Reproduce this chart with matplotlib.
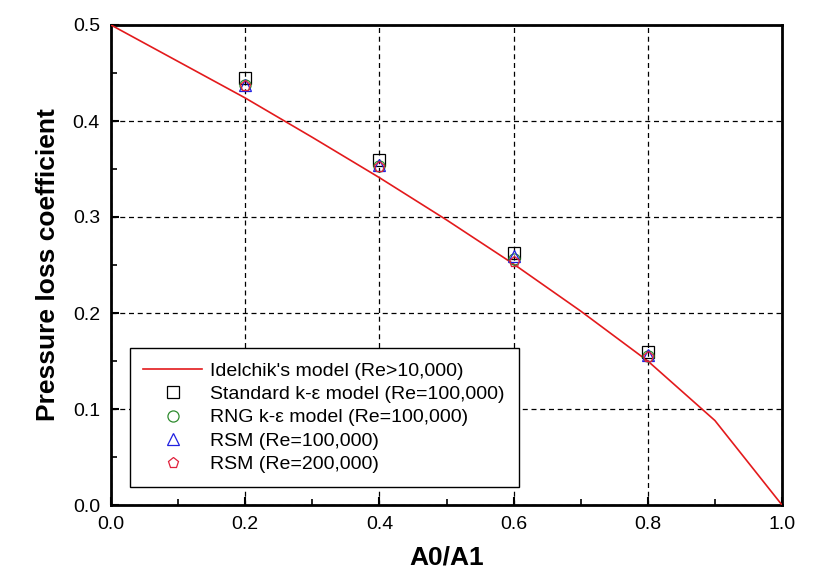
import numpy as np
import matplotlib
matplotlib.use('Agg')
import matplotlib.pyplot as plt
from matplotlib.ticker import MultipleLocator

plt.rcParams['font.family'] = ['Liberation Sans', 'DejaVu Sans']

# Idelchik's curve (tabulated)
x_idel = [0.0, 0.1, 0.2, 0.3, 0.4, 0.5, 0.6, 0.7, 0.8, 0.9, 1.0]
y_idel = [0.5, 0.462, 0.424, 0.383, 0.341, 0.297, 0.251, 0.202, 0.150, 0.088, 0.0]

# CFD results
x_cfd    = [0.2, 0.4, 0.6, 0.8]
std_ke   = [0.445, 0.359, 0.2625, 0.159]
rng_ke   = [0.437, 0.353, 0.256, 0.155]
rsm_100k = [0.438, 0.354, 0.259, 0.156]
rsm_200k = [0.436, 0.352, 0.253, 0.154]

fig = plt.figure(figsize=(8.17, 5.81), dpi=100)
ax = fig.add_axes([111/817, 1-505/581, 671/817, 480/581])

ax.plot(x_idel, y_idel, color='#e31a1c', lw=1.2, label="Idelchik's model (Re>10,000)", zorder=3)
ax.plot(x_cfd, std_ke, ls='none', marker='s', ms=8, mfc='none', mec='black', mew=0.9,
        label="Standard k-\u03b5 model (Re=100,000)", zorder=4)
ax.plot(x_cfd, rng_ke, ls='none', marker='o', ms=8, mfc='none', mec='#2e8b2e', mew=0.9,
        label="RNG k-\u03b5 model (Re=100,000)", zorder=4)
ax.plot(x_cfd, rsm_100k, ls='none', marker='^', ms=8, mfc='none', mec='#2020e0', mew=0.9,
        label="RSM (Re=100,000)", zorder=4)
ax.plot(x_cfd, rsm_200k, ls='none', marker='p', ms=8, mfc='none', mec='#e0203c', mew=0.9,
        label="RSM (Re=200,000)", zorder=4)

ax.set_xlim(0, 1.0)
ax.set_ylim(0, 0.5)
ax.xaxis.set_major_locator(MultipleLocator(0.2))
ax.xaxis.set_minor_locator(MultipleLocator(0.1))
ax.yaxis.set_major_locator(MultipleLocator(0.1))
ax.yaxis.set_minor_locator(MultipleLocator(0.05))
ax.xaxis.set_major_formatter(plt.FormatStrFormatter('%.1f'))
ax.yaxis.set_major_formatter(plt.FormatStrFormatter('%.1f'))
ax.tick_params(which='both', direction='in', top=False, right=False, labelsize=14)
ax.tick_params(which='major', length=6, width=1.5)
ax.tick_params(which='minor', length=4, width=1.2)
ax.tick_params(axis='x', which='major', pad=8)
ax.tick_params(axis='y', which='major', pad=8)
ax.grid(True, which='major', color='black', ls=(0, (4, 3)), lw=0.9)
for sp in ax.spines.values():
    sp.set_linewidth(2)

ax.set_xlabel("A0/A1", fontsize=19, fontweight='bold', labelpad=9)
ax.set_ylabel("Pressure loss coefficient", fontsize=19, fontweight='bold', labelpad=9)

leg = ax.legend(loc='lower left', bbox_to_anchor=(0.028, 0.0375), fontsize=14,
                frameon=True, fancybox=False, framealpha=1, edgecolor='black',
                handlelength=3.0, handletextpad=0.45, borderpad=0.7, labelspacing=0.3,
                borderaxespad=0)
leg.get_frame().set_linewidth(1.0)

fig.savefig('out.png', dpi=100)
